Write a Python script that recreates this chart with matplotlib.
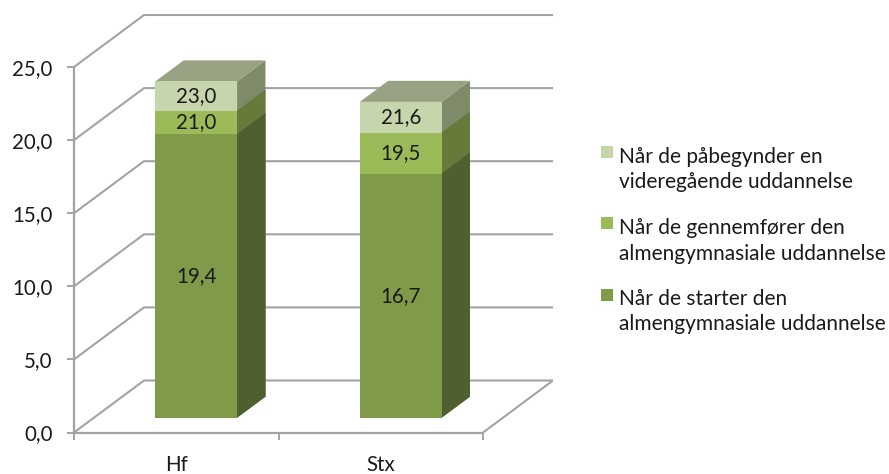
import matplotlib
matplotlib.use("Agg")
from matplotlib import pyplot as plt
from matplotlib.patches import Polygon, Rectangle
import numpy as np

plt.rcParams['font.family'] = ['Lato', 'DejaVu Sans']

categories = ['Hf', 'Stx']
starter = [19.4, 16.7]
gennemfoerer = [21.0, 19.5]
paabegynder = [23.0, 21.6]
yticks = [0, 5, 10, 15, 20, 25]

# drawn back to front, tallest first
series = [paabegynder, gennemfoerer, starter]
names = ['Når de påbegynder en\nvideregående uddannelse',
         'Når de gennemfører den\nalmengymnasiale uddannelse',
         'Når de starter den\nalmengymnasiale uddannelse']
front_cols = ['#C6D5AB', '#9BBB59', '#7F9A48']
side_cols = ['#7F8A6B', '#667A39', '#505F2F']
top_col = '#98A283'
grid_col = '#A3A3A3'
text_col = '#1A1A1A'
font_size = 14.8

# pixels per category / per unit, used to size the fake 3d depth
px_x = 204.5
px_y = 14.62
wall_dx = 70 / px_x
wall_dy = 52 / px_y
bar_w = 0.4
near = 0.285   # depth where the bar front stands
far = 0.69     # depth where the bar back stands

fig = plt.figure(figsize=(8.89, 4.74), dpi=100)
ax = fig.add_axes([74 / 889, (474 - 432.5) / 474, 479 / 889, 418.5 / 474])
ax.set_xlim(0, 479 / px_x)
ax.set_ylim(0, 418.5 / px_y)
ax.patch.set_visible(False)

# walls and floor
for v in yticks:
    ax.plot([0, wall_dx, 2 + wall_dx], [v, v + wall_dy, v + wall_dy],
            color=grid_col, lw=1.5, zorder=1, solid_joinstyle='miter')
ax.plot([2, 2 + wall_dx], [0, wall_dy], color=grid_col, lw=1.5, zorder=1)

# bars
n_cat = len(categories)
x_pos = np.arange(n_cat) + 0.5
depth = (far - near)
for i, vals in enumerate(series):
    for j, v in enumerate(vals):
        x0 = x_pos[j] - bar_w / 2 + near * wall_dx
        x1 = x0 + bar_w
        y0 = near * wall_dy
        sx = depth * wall_dx
        sy = depth * wall_dy
        ax.add_patch(Polygon([(x1, y0), (x1 + sx, y0 + sy), (x1 + sx, y0 + sy + v), (x1, y0 + v)],
                             closed=True, fc=side_cols[i], ec='none', zorder=2 + i))
        if i == 0:
            ax.add_patch(Polygon([(x0, y0 + v), (x1, y0 + v), (x1 + sx, y0 + sy + v), (x0 + sx, y0 + sy + v)],
                                 closed=True, fc=top_col, ec='none', zorder=2))
    ax.bar(x_pos + near * wall_dx, vals, bar_w, bottom=near * wall_dy,
           color=front_cols[i], zorder=2 + i)

# value labels sit in the middle of the visible part of each front
for i, vals in enumerate(series):
    lower = series[i + 1] if i + 1 < len(series) else [0] * n_cat
    for j, v in enumerate(vals):
        ax.text(x_pos[j] + near * wall_dx, near * wall_dy + (v + lower[j]) / 2,
                f'{v:.1f}'.replace('.', ','), ha='center', va='center',
                fontsize=font_size, color=text_col, zorder=10)

# axes
for s in ['top', 'right']:
    ax.spines[s].set_visible(False)
ax.spines['left'].set_bounds(0, 25)
ax.spines['bottom'].set_bounds(0, 2)
for s in ['left', 'bottom']:
    ax.spines[s].set_color(grid_col)
    ax.spines[s].set_linewidth(1.6)
ax.set_yticks(yticks)
ax.set_yticklabels([f'{v:.1f}'.replace('.', ',') for v in yticks])
ax.set_xticks([0, 1, 2])
ax.set_xticklabels([])
ax.set_xticks(x_pos, labels=categories, minor=True)
ax.tick_params(axis='both', which='major', color=grid_col, width=1.4, length=5)
ax.tick_params(axis='x', which='minor', length=0, pad=16)
ax.tick_params(axis='both', which='both', labelsize=font_size, labelcolor=text_col)
ax.tick_params(axis='y', pad=10.5)

# legend by hand, the swatch goes with the first text line
swatch_top = [146, 217, 289]
legend_base = [188.5, 259.5, 330.5]   # baseline of the last text line
for name, col, top, base in zip(names, front_cols, swatch_top, legend_base):
    fig.add_artist(Rectangle((601 / 889, 1 - (top + 12) / 474), 12 / 889, 12 / 474,
                             transform=fig.transFigure, fc=col, ec='none'))
    fig.text(619 / 889, 1 - base / 474, name, ha='left', va='baseline', fontsize=15,
             color=text_col, linespacing=1.35)

fig.savefig('out.png', dpi=100)
